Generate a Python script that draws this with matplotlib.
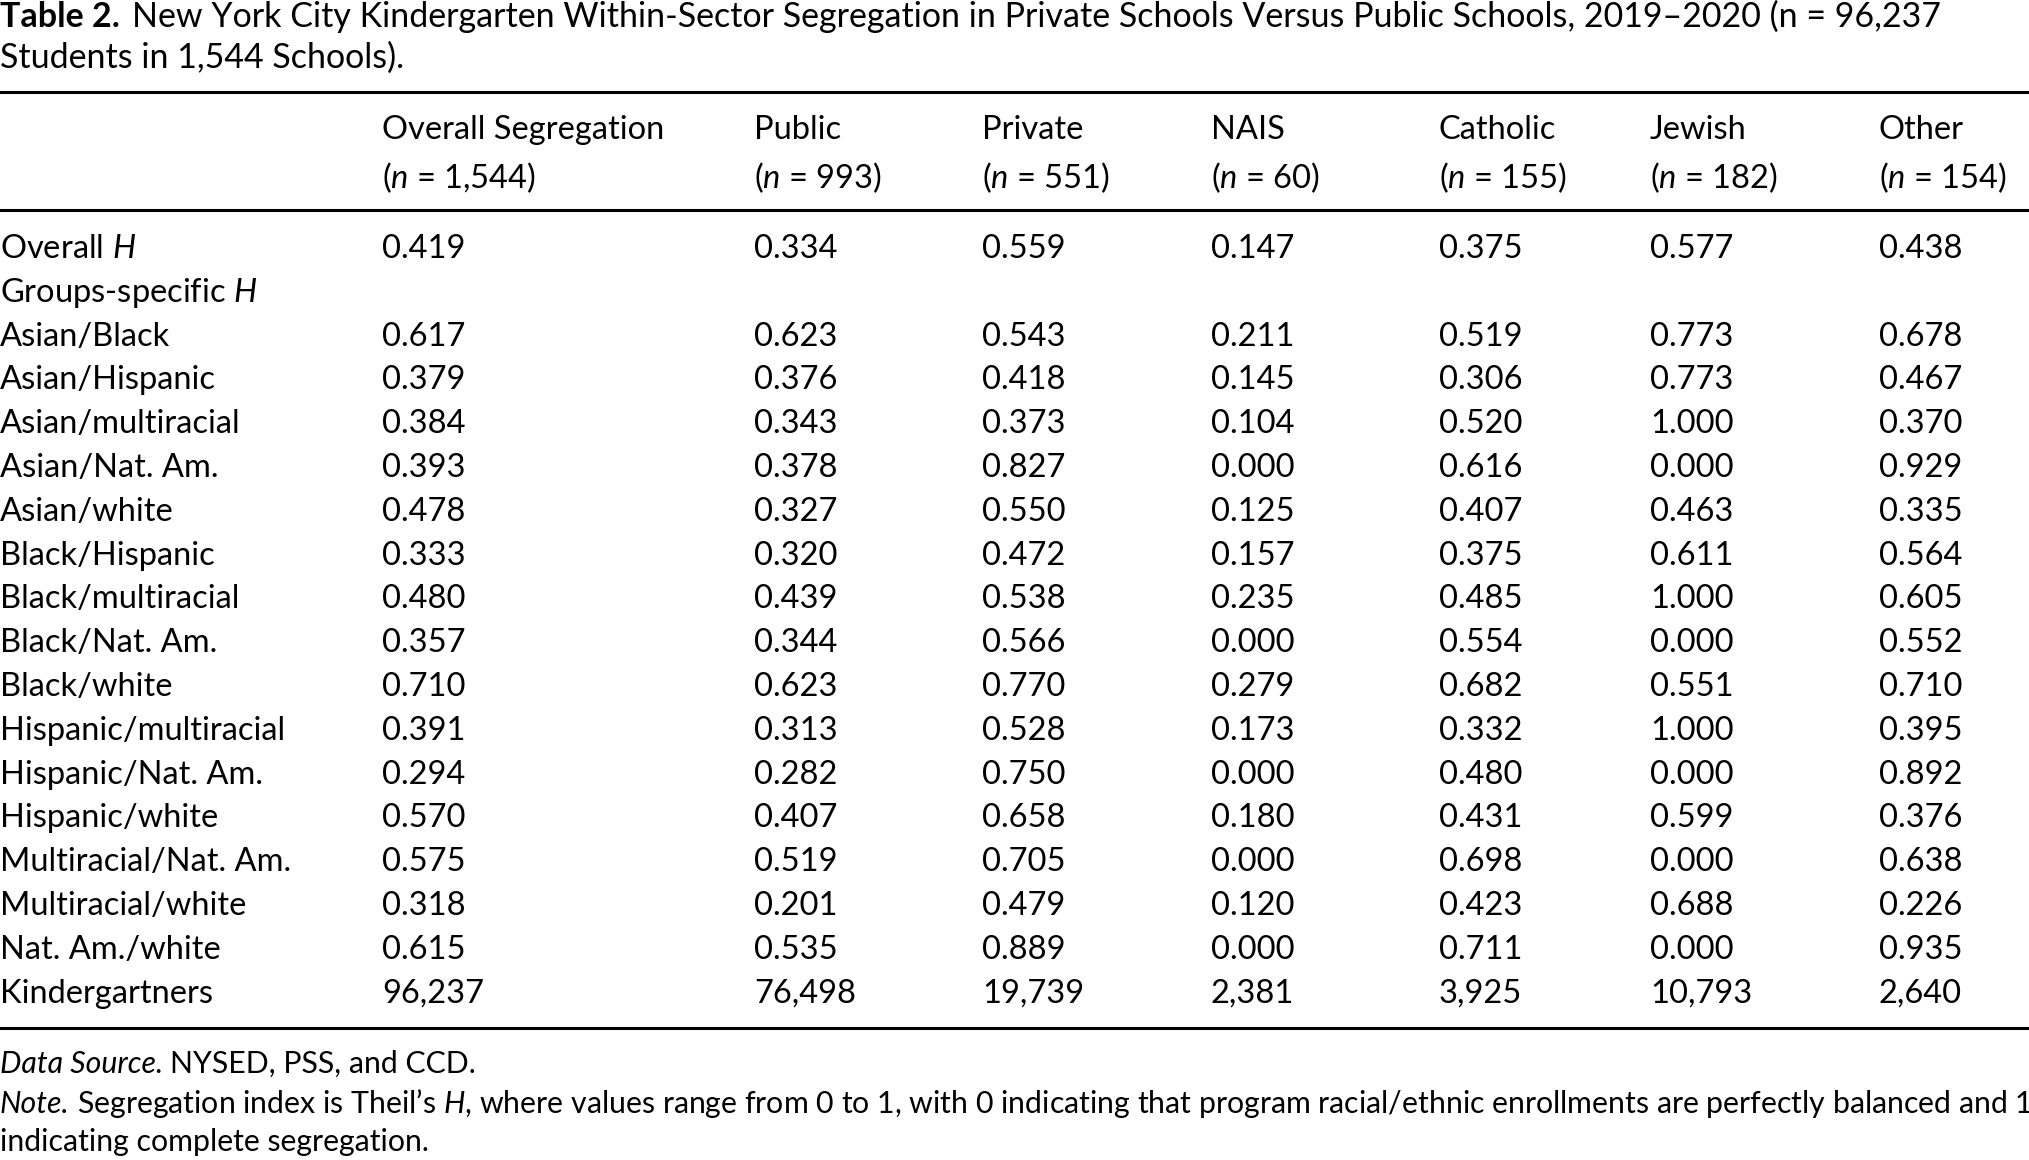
import matplotlib
matplotlib.use("Agg")
import matplotlib.pyplot as plt
from matplotlib.lines import Line2D

# table content
row_labels = ["Overall $H$", "Groups-specific $H$", "Asian/Black", "Asian/Hispanic",
              "Asian/multiracial", "Asian/Nat. Am.", "Asian/white", "Black/Hispanic",
              "Black/multiracial", "Black/Nat. Am.", "Black/white", "Hispanic/multiracial",
              "Hispanic/Nat. Am.", "Hispanic/white", "Multiracial/Nat. Am.",
              "Multiracial/white", "Nat. Am./white", "Kindergartners"]
col_names = ["Overall Segregation", "Public", "Private", "NAIS", "Catholic", "Jewish", "Other"]
col_n = [1544, 993, 551, 60, 155, 182, 154]

overall_seg = [0.419, None, 0.617, 0.379, 0.384, 0.393, 0.478, 0.333, 0.480, 0.357, 0.710, 0.391, 0.294, 0.570, 0.575, 0.318, 0.615]
public = [0.334, None, 0.623, 0.376, 0.343, 0.378, 0.327, 0.320, 0.439, 0.344, 0.623, 0.313, 0.282, 0.407, 0.519, 0.201, 0.535]
private = [0.559, None, 0.543, 0.418, 0.373, 0.827, 0.550, 0.472, 0.538, 0.566, 0.770, 0.528, 0.750, 0.658, 0.705, 0.479, 0.889]
nais = [0.147, None, 0.211, 0.145, 0.104, 0.000, 0.125, 0.157, 0.235, 0.000, 0.279, 0.173, 0.000, 0.180, 0.000, 0.120, 0.000]
catholic = [0.375, None, 0.519, 0.306, 0.520, 0.616, 0.407, 0.375, 0.485, 0.554, 0.682, 0.332, 0.480, 0.431, 0.698, 0.423, 0.711]
jewish = [0.577, None, 0.773, 0.773, 1.000, 0.000, 0.463, 0.611, 1.000, 0.000, 0.551, 1.000, 0.000, 0.599, 0.000, 0.688, 0.000]
other = [0.438, None, 0.678, 0.467, 0.370, 0.929, 0.335, 0.564, 0.605, 0.552, 0.710, 0.395, 0.892, 0.376, 0.638, 0.226, 0.935]
kindergartners = [96237, 76498, 19739, 2381, 3925, 10793, 2640]

title_bold = "Table 2."
title_rest = "New York City Kindergarten Within-Sector Segregation in Private Schools Versus Public Schools, 2019\u20132020 (n = 96,237"
title_line2 = "Students in 1,544 Schools)."
source_note = "NYSED, PSS, and CCD."
note_line1 = "Segregation index is Theil\u2019s $H$, where values range from 0 to 1, with 0 indicating that program racial/ethnic enrollments are perfectly balanced and 1"
note_line2 = "indicating complete segregation."

plt.rcParams['font.family'] = ['Lato', 'DejaVu Sans']
plt.rcParams['mathtext.fontset'] = 'custom'
plt.rcParams['mathtext.rm'] = 'Lato'
plt.rcParams['mathtext.it'] = 'Lato:italic'

W, H = 2029, 1160
fig = plt.figure(figsize=(W / 100, H / 100), dpi=100)

BODY = 23.5
TITLE = 24.5
FOOT = 21.8


def put(x, y, s, size=BODY, **kw):
    return fig.text(x / W, 1 - y / H, s, fontsize=size, va='baseline', ha='left', **kw)


def rule(y, lw=2.2):
    fig.add_artist(Line2D([0, 1], [1 - y / H, 1 - y / H], transform=fig.transFigure,
                          color='black', lw=lw))


def right_edge(t):
    fig.canvas.draw()
    return t.get_window_extent().x1


# title
t = put(0, 27, title_bold, size=TITLE, fontweight='bold')
put(right_edge(t) + 12, 27, title_rest, size=TITLE)
put(0, 68, title_line2, size=TITLE)

rule(92)
rule(210)
rule(1028)

col_x = [382, 754, 982, 1211, 1439, 1650, 1879]
for x, name, n in zip(col_x, col_names, col_n):
    put(x, 139, name)
    put(x, 188, "($n$ = {:,})".format(n))

row0, step = 258, 43.8
for i, lab in enumerate(row_labels):
    put(0, row0 + i * step, lab)

columns = [overall_seg, public, private, nais, catholic, jewish, other]
for x, vals in zip(col_x, columns):
    for i, v in enumerate(vals):
        if v is None:
            continue
        put(x, row0 + i * step, "{:.3f}".format(v))

for x, k in zip(col_x, kindergartners):
    put(x, row0 + 17 * step, "{:,}".format(k))

# footnotes
d = put(0, 1073, "Data Source.", size=FOOT, style='italic')
put(right_edge(d) + 7, 1073, source_note, size=FOOT)

n1 = put(0, 1113, "Note.", size=FOOT, style='italic')
put(right_edge(n1) + 7, 1113, note_line1, size=FOOT)
put(0, 1151, note_line2, size=FOOT)

fig.savefig("out.png", dpi=100, facecolor='white')
